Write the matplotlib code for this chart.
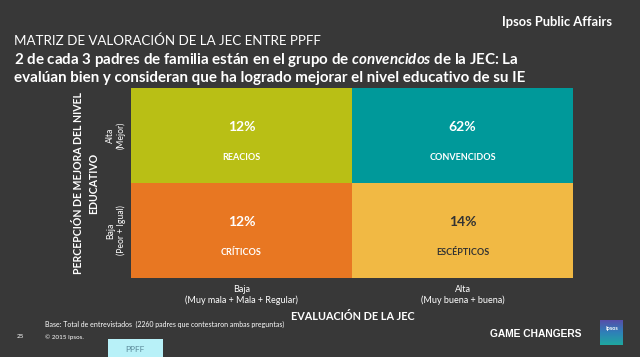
import numpy as np
import matplotlib.pyplot as plt
from matplotlib.colors import ListedColormap, LinearSegmentedColormap
from matplotlib.patches import Rectangle

# Datos de la matriz (fila 0 = Alta percepción, fila 1 = Baja)
porcentajes = [[12, 62],
               [12, 14]]
grupos = [["REACIOS", "CONVENCIDOS"],
          ["CRÍTICOS", "ESCÉPTICOS"]]
colores = ["#B9BF15", "#00999A", "#E87722", "#F1B944"]
color_texto = [["white", "white"], ["white", "#333333"]]
x_labels = ["Baja\n(Muy mala + Mala + Regular)", "Alta\n(Muy buena + buena)"]
y_labels = ["Alta\n(Mejor)", "Baja\n(Peor + Igual)"]

bg = "#383838"
fuente = ["Lato", "DejaVu Sans"]
plt.rcParams['font.family'] = fuente
plt.rcParams['mathtext.fontset'] = 'custom'
plt.rcParams['mathtext.it'] = 'Lato:italic:bold'

fig = plt.figure(figsize=(6.4, 3.57), dpi=100, facecolor=bg)

# Cabecera
fig.text(612/640, 1 - 22/357, "Ipsos Public Affairs", color="white", fontsize=9.3,
         fontweight="bold", ha="right", va="center")
fig.text(14/640, 1 - 41/357, "MATRIZ DE VALORACIÓN DE LA JEC ENTRE PPFF", color="white",
         fontsize=9.6, ha="left", va="center")
fig.text(14/640, 1 - 60/357,
         "2 de cada 3 padres de familia están en el grupo de $\\it{convencidos}$ de la JEC: La",
         color="white", fontsize=10.9, fontweight="bold", ha="left", va="center")
fig.text(14/640, 1 - 78/357,
         "evalúan bien y consideran que ha logrado mejorar el nivel educativo de su IE",
         color="white", fontsize=10.9, fontweight="bold", ha="left", va="center")

# Matriz
ax = fig.add_axes([131/640, 1 - 278/357, (573 - 131)/640, (278 - 88)/357])
idx = np.arange(4).reshape(2, 2)
ax.pcolormesh(idx, cmap=ListedColormap(colores), vmin=-0.5, vmax=3.5)
ax.set_xlim(0, 2)
ax.set_ylim(2, 0)
ax.axis("off")
for i in range(2):
    for j in range(2):
        ax.text(j + 0.5, i + 0.41, f"{porcentajes[i][j]}%", color=color_texto[i][j],
                fontsize=10, fontweight="bold", ha="center", va="center")
        ax.text(j + 0.5, i + 0.73, grupos[i][j], color=color_texto[i][j],
                fontsize=6.5, fontweight="bold", ha="center", va="center")

# Etiquetas de los ejes
for j, lab in enumerate(x_labels):
    fig.text((131 + (j + 0.5) * 221)/640, 1 - 295/357, lab, color="white", fontsize=6.5,
             ha="center", va="center", linespacing=1.3)
for i, lab in enumerate(y_labels):
    fig.text(116/640, 1 - (88 + (i + 0.5) * 95)/357, lab, color="white", fontsize=6.2,
             ha="center", va="center", rotation=90, linespacing=1.2)
fig.text(353/640, 1 - 317/357, "EVALUACIÓN DE LA JEC", color="white", fontsize=7.8,
         fontweight="bold", ha="center", va="center")
fig.text(86/640, 1 - 183/357, "PERCEPCIÓN DE MEJORA DEL NIVEL\nEDUCATIVO", color="white",
         fontsize=7.6, fontweight="bold", ha="center", va="center", rotation=90,
         linespacing=1.4)

# Pie
fig.text(45/640, 1 - 324/357,
         "Base: Total de entrevistados  (2260 padres que contestaron ambas preguntas)",
         color="white", fontsize=5, ha="left", va="center")
fig.text(17/640, 1 - 337/357, "25", color="white", fontsize=4.5, ha="left", va="center")
fig.text(45/640, 1 - 337/357, "© 2015 Ipsos.", color="white", fontsize=4.5, ha="left", va="center")
fig.patches.append(Rectangle((108/640, 0), 55/640, (357 - 339)/357, transform=fig.transFigure,
                             facecolor="#B8F1F8", edgecolor="none"))
fig.text(135/640, 1 - 349/357, "PPFF", color="#5B8A9A", fontsize=6, ha="center", va="center")
fig.text(581/640, 1 - 334/357, "GAME CHANGERS", color="white", fontsize=7.4,
         fontweight="bold", family="Liberation Sans", ha="right", va="center")

# Logo Ipsos (degradado)
lax = fig.add_axes([600/640, 1 - 345/357, 23/640, 25/357])
grad = np.linspace(0, 1, 50).reshape(-1, 1)
lax.imshow(grad, aspect="auto", cmap=LinearSegmentedColormap.from_list(
    "ipsos", ["#5A4AA8", "#2F7FB8", "#1FA7A0"]))
lax.axis("off")
lax.text(0.5, 0.65, "Ipsos", color="white", fontsize=4, fontweight="bold",
         ha="center", va="center", transform=lax.transAxes)

fig.savefig("out.png", dpi=100, facecolor=bg)
